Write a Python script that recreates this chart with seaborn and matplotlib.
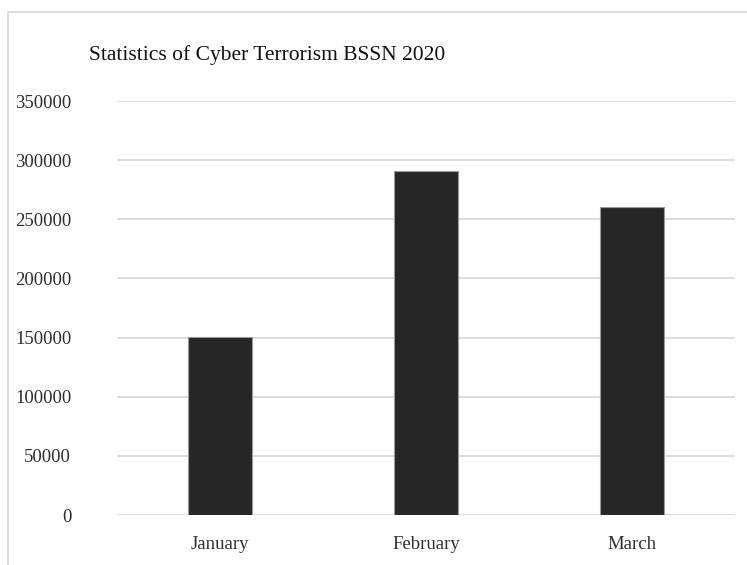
import matplotlib
matplotlib.use("Agg")
import matplotlib.pyplot as plt
import seaborn as sns
import pandas as pd
from matplotlib.patches import Rectangle

months = ["January", "February", "March"]
attacks = [150800, 290700, 260700]
yticks = [0, 50000, 100000, 150000, 200000, 250000, 300000, 350000]
title = "Statistics of Cyber Terrorism BSSN 2020"

sns.set_theme(style="white")
plt.rcParams["font.family"] = ["Liberation Serif", "DejaVu Serif"]

df = pd.DataFrame({"Month": months, "Attacks": attacks})

W, H = 747, 565
fig = plt.figure(figsize=(W / 100, H / 100), dpi=100)
ax = fig.add_axes([117 / W, 1 - 515 / H, (735 - 117) / W, (515 - 101) / H])

sns.barplot(data=df, x="Month", y="Attacks", color="#262626", width=0.31,
            edgecolor="#9a9a9a", linewidth=0.8, saturation=1, ax=ax, zorder=3)

ax.set_ylim(0, 350000)
ax.set_yticks(yticks)
ax.set_yticklabels([str(v) for v in yticks])
ax.set_xlim(-0.5, 2.5)
ax.yaxis.grid(True, color="#d9d9d9", linewidth=1.3, zorder=0)
ax.set_axisbelow(True)
for s in ax.spines.values():
    s.set_visible(False)
ax.set_xlabel("")
ax.set_ylabel("")
ax.tick_params(axis="y", length=0, pad=33, labelsize=13.5, labelcolor="#2e2e2e")
ax.tick_params(axis="x", length=0, pad=15, labelsize=13.5, labelcolor="#2e2e2e")

fig.text(267 / W, 1 - 60 / H, title, ha="center", va="baseline",
         fontsize=15.5, color="#111111")

# chart-area border
fig.patches.append(Rectangle((8 / W, -0.1), 1.2, 1 - 12 / H + 0.1,
                             transform=fig.transFigure, fill=False,
                             edgecolor="#d9d9d9", linewidth=1.2))

fig.savefig("out.png", dpi=100)
